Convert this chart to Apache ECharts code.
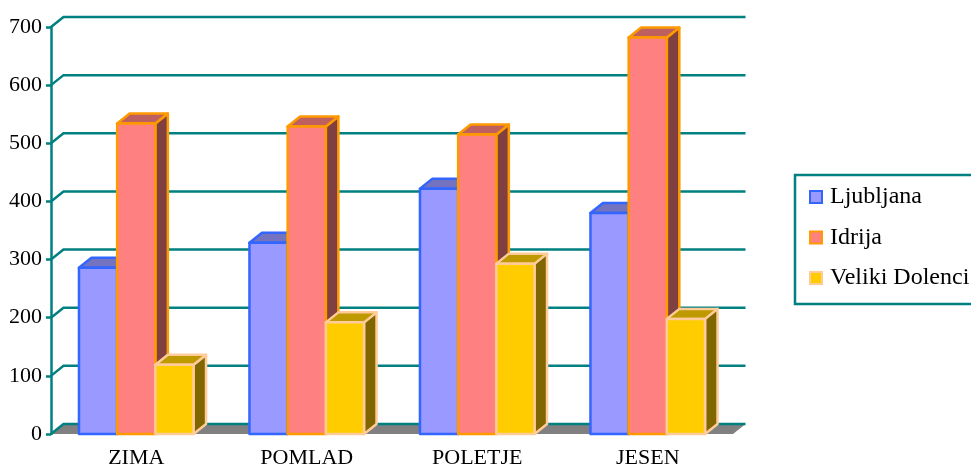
<!DOCTYPE html>
<html>
<head>
<meta charset="utf-8">
<script src="https://cdn.jsdelivr.net/npm/echarts@6/dist/echarts.min.js"></script>
<style>
  html, body { margin: 0; padding: 0; background: #fff; }
  #chart { width: 971px; height: 470px; }
</style>
</head>
<body>
<div id="chart"></div>
<script>
// podatki
const categories = ['ZIMA', 'POMLAD', 'POLETJE', 'JESEN']
const ljubljana = [286, 329, 422, 380]
const idrija = [534, 529, 515, 682]
const velikiDolenci = [119, 192, 293, 198]
const yTicks = [0, 100, 200, 300, 400, 500, 600, 700]

// globina 3D učinka
const DX = 12.5
const DY = -10
const TEAL = '#008080'
const FONT = 'Liberation Serif'

const seriesStyles = [
  { name: 'Ljubljana', data: ljubljana, front: '#9999FF', top: '#7373BF', side: '#4C4C80', stroke: '#3366FF' },
  { name: 'Idrija', data: idrija, front: '#FF8080', top: '#BF6060', side: '#804040', stroke: '#FF9900' },
  { name: 'Veliki Dolenci', data: velikiDolenci, front: '#FFCC00', top: '#BF9900', side: '#806600', stroke: '#FFCC99' },
]

// ozadje: stene, mreža in tla
function renderFrame(params, api) {
  const cs = params.coordSys
  const v = api.value(1)
  const y = api.coord([0, v])[1]
  const left = cs.x
  const right = cs.x + cs.width
  const children = []
  if (v === 0) {
    children.push({
      type: 'polygon',
      shape: { points: [[left, y], [right, y], [right + DX, y + DY], [left + DX, y + DY]] },
      style: { fill: '#808080' },
    })
  }
  children.push({
    type: 'polyline',
    shape: { points: [[left, y], [left + DX, y + DY], [right + DX, y + DY]] },
    style: { stroke: TEAL, lineWidth: 2.5, fill: null },
  })
  return { type: 'group', children }
}

// 3D stolpec
function makeBarRenderer(idx) {
  const s = seriesStyles[idx]
  return function (params, api) {
    const ci = api.value(0)
    const top = api.coord([ci, api.value(1)])
    const base = api.coord([ci, 0])
    const band = api.size([1, 0])[0]
    const bw = band * 0.224
    const x0 = top[0] + (idx - 1) * bw - bw / 2
    const x1 = x0 + bw
    const yt = top[1]
    const yb = base[1]
    const stroke = { stroke: s.stroke, lineWidth: 2.5, lineJoin: 'round' }
    return {
      type: 'group',
      children: [
        {
          type: 'polygon',
          shape: { points: [[x1, yt], [x1 + DX, yt + DY], [x1 + DX, yb + DY], [x1, yb]] },
          style: Object.assign({ fill: s.side }, stroke),
        },
        {
          type: 'polygon',
          shape: { points: [[x0, yt], [x0 + DX, yt + DY], [x1 + DX, yt + DY], [x1, yt]] },
          style: Object.assign({ fill: s.top }, stroke),
        },
        {
          type: 'rect',
          shape: { x: x0, y: yt, width: bw, height: yb - yt },
          style: Object.assign({ fill: s.front }, stroke),
        },
      ],
    }
  }
}

const chart = echarts.init(document.getElementById('chart'))

chart.setOption({
  animation: false,
  backgroundColor: '#fff',
  grid: { left: 51, right: 238, top: 27, bottom: 36 },
  legend: {
    orient: 'vertical',
    left: 795,
    top: 175,
    padding: [10, 20, 14, 14],
    borderColor: TEAL,
    borderWidth: 2.5,
    itemGap: 16.5,
    itemWidth: 12,
    itemHeight: 12,
    icon: 'rect',
    textStyle: { fontFamily: FONT, fontSize: 24, lineHeight: 24, color: '#000', padding: [0, 0, 0, 3] },
    data: seriesStyles.map(s => ({
      name: s.name,
      itemStyle: { color: s.front, borderColor: s.stroke, borderWidth: 2 },
    })),
  },
  xAxis: {
    type: 'category',
    data: categories,
    axisLine: { show: false },
    axisTick: { show: false },
    axisLabel: { fontFamily: FONT, fontSize: 22, color: '#000', margin: 13 },
  },
  yAxis: {
    type: 'value',
    min: 0,
    max: 700,
    interval: 100,
    splitLine: { show: false },
    axisLine: { show: true, lineStyle: { color: TEAL, width: 2.5 } },
    axisTick: { show: true, length: 5, lineStyle: { color: TEAL, width: 2.5 } },
    axisLabel: { fontFamily: FONT, fontSize: 22, color: '#000', margin: 9 },
  },
  series: [
    {
      type: 'custom',
      z: 1,
      renderItem: renderFrame,
      encode: { x: 0, y: 1 },
      data: yTicks.map(v => [0, v]),
      silent: true,
    },
    ...seriesStyles.map((s, i) => ({
      name: s.name,
      type: 'custom',
      z: 2 + i,
      renderItem: makeBarRenderer(i),
      encode: { x: 0, y: 1 },
      itemStyle: { color: s.front, borderColor: s.stroke },
      data: s.data.map((v, ci) => [ci, v]),
    })),
  ],
})
</script>
</body>
</html>
